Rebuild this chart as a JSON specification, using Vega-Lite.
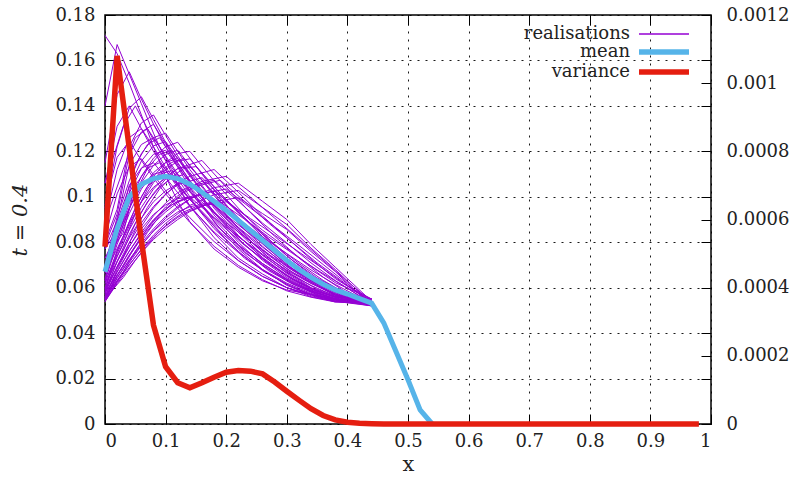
{
  "$schema": "https://vega.github.io/schema/vega-lite/v6.json",
  "width": 606,
  "height": 409,
  "autosize": {"type": "none"},
  "padding": {"left": 105, "top": 15, "right": 82, "bottom": 53},
  "background": "white",
  "config": {
    "view": {"stroke": "black", "strokeWidth": 1.5},
    "font": "DejaVu Serif",
    "axis": {
      "labelFont": "DejaVu Serif",
      "labelFontSize": 18,
      "labelColor": "#222222",
      "titleFont": "DejaVu Serif",
      "titleFontSize": 21,
      "titleFontWeight": "normal",
      "titleColor": "#222222",
      "domain": false,
      "tickColor": "black",
      "tickWidth": 1,
      "gridColor": "black",
      "gridDash": [2, 6],
      "gridOpacity": 0.9,
      "gridWidth": 1
    },
    "legend": {
      "labelFont": "DejaVu Serif",
      "labelFontSize": 18,
      "labelColor": "#222222"
    }
  },
  "datasets": {
    "real": [
      {"r":1,"x":0,"y":0.171},{"r":1,"x":0.02,"y":0.163},{"r":1,"x":0.04,"y":0.150},{"r":1,"x":0.06,"y":0.136},{"r":1,"x":0.08,"y":0.122},{"r":1,"x":0.1,"y":0.109},{"r":1,"x":0.12,"y":0.098},{"r":1,"x":0.14,"y":0.089},{"r":1,"x":0.18,"y":0.077},{"r":1,"x":0.22,"y":0.069},{"r":1,"x":0.26,"y":0.063},{"r":1,"x":0.3,"y":0.059},{"r":1,"x":0.34,"y":0.057},{"r":1,"x":0.38,"y":0.055},{"r":1,"x":0.44,"y":0.053},
      {"r":2,"x":0,"y":0.140},{"r":2,"x":0.02,"y":0.167},{"r":2,"x":0.04,"y":0.154},{"r":2,"x":0.06,"y":0.141},{"r":2,"x":0.08,"y":0.128},{"r":2,"x":0.1,"y":0.116},{"r":2,"x":0.12,"y":0.105},{"r":2,"x":0.14,"y":0.096},{"r":2,"x":0.18,"y":0.082},{"r":2,"x":0.22,"y":0.072},{"r":2,"x":0.26,"y":0.065},{"r":2,"x":0.3,"y":0.060},{"r":2,"x":0.34,"y":0.057},{"r":2,"x":0.38,"y":0.055},{"r":2,"x":0.44,"y":0.054},
      {"r":3,"x":0,"y":0.115},{"r":3,"x":0.02,"y":0.145},{"r":3,"x":0.04,"y":0.155},{"r":3,"x":0.06,"y":0.143},{"r":3,"x":0.08,"y":0.132},{"r":3,"x":0.1,"y":0.122},{"r":3,"x":0.12,"y":0.113},{"r":3,"x":0.14,"y":0.104},{"r":3,"x":0.18,"y":0.089},{"r":3,"x":0.22,"y":0.077},{"r":3,"x":0.26,"y":0.068},{"r":3,"x":0.3,"y":0.061},{"r":3,"x":0.34,"y":0.057},{"r":3,"x":0.38,"y":0.054},{"r":3,"x":0.44,"y":0.053},
      {"r":4,"x":0,"y":0.106},{"r":4,"x":0.02,"y":0.131},{"r":4,"x":0.04,"y":0.140},{"r":4,"x":0.06,"y":0.130},{"r":4,"x":0.08,"y":0.120},{"r":4,"x":0.1,"y":0.112},{"r":4,"x":0.12,"y":0.104},{"r":4,"x":0.14,"y":0.096},{"r":4,"x":0.18,"y":0.084},{"r":4,"x":0.22,"y":0.073},{"r":4,"x":0.26,"y":0.066},{"r":4,"x":0.3,"y":0.060},{"r":4,"x":0.34,"y":0.056},{"r":4,"x":0.38,"y":0.054},{"r":4,"x":0.44,"y":0.052},
      {"r":5,"x":0,"y":0.095},{"r":5,"x":0.02,"y":0.122},{"r":5,"x":0.04,"y":0.139},{"r":5,"x":0.06,"y":0.144},{"r":5,"x":0.08,"y":0.134},{"r":5,"x":0.1,"y":0.124},{"r":5,"x":0.12,"y":0.115},{"r":5,"x":0.14,"y":0.107},{"r":5,"x":0.18,"y":0.092},{"r":5,"x":0.22,"y":0.080},{"r":5,"x":0.26,"y":0.070},{"r":5,"x":0.3,"y":0.063},{"r":5,"x":0.34,"y":0.058},{"r":5,"x":0.38,"y":0.054},{"r":5,"x":0.44,"y":0.054},
      {"r":6,"x":0,"y":0.089},{"r":6,"x":0.02,"y":0.112},{"r":6,"x":0.04,"y":0.126},{"r":6,"x":0.06,"y":0.130},{"r":6,"x":0.08,"y":0.122},{"r":6,"x":0.1,"y":0.113},{"r":6,"x":0.12,"y":0.106},{"r":6,"x":0.14,"y":0.099},{"r":6,"x":0.18,"y":0.086},{"r":6,"x":0.22,"y":0.076},{"r":6,"x":0.26,"y":0.0675},{"r":6,"x":0.3,"y":0.0615},{"r":6,"x":0.34,"y":0.057},{"r":6,"x":0.38,"y":0.054},{"r":6,"x":0.44,"y":0.053},
      {"r":7,"x":0,"y":0.080},{"r":7,"x":0.02,"y":0.0945},{"r":7,"x":0.04,"y":0.122},{"r":7,"x":0.06,"y":0.1325},{"r":7,"x":0.08,"y":0.136},{"r":7,"x":0.1,"y":0.127},{"r":7,"x":0.12,"y":0.118},{"r":7,"x":0.14,"y":0.110},{"r":7,"x":0.18,"y":0.095},{"r":7,"x":0.22,"y":0.083},{"r":7,"x":0.26,"y":0.073},{"r":7,"x":0.3,"y":0.065},{"r":7,"x":0.34,"y":0.059},{"r":7,"x":0.38,"y":0.055},{"r":7,"x":0.44,"y":0.053},
      {"r":8,"x":0,"y":0.077},{"r":8,"x":0.02,"y":0.0895},{"r":8,"x":0.04,"y":0.114},{"r":8,"x":0.06,"y":0.123},{"r":8,"x":0.08,"y":0.126},{"r":8,"x":0.1,"y":0.118},{"r":8,"x":0.12,"y":0.110},{"r":8,"x":0.14,"y":0.103},{"r":8,"x":0.18,"y":0.090},{"r":8,"x":0.22,"y":0.079},{"r":8,"x":0.26,"y":0.0706},{"r":8,"x":0.3,"y":0.0636},{"r":8,"x":0.34,"y":0.0583},{"r":8,"x":0.38,"y":0.0548},{"r":8,"x":0.44,"y":0.055},
      {"r":9,"x":0,"y":0.073},{"r":9,"x":0.02,"y":0.084},{"r":9,"x":0.04,"y":0.105},{"r":9,"x":0.06,"y":0.1126},{"r":9,"x":0.08,"y":0.115},{"r":9,"x":0.1,"y":0.1085},{"r":9,"x":0.12,"y":0.1018},{"r":9,"x":0.14,"y":0.0958},{"r":9,"x":0.18,"y":0.0845},{"r":9,"x":0.22,"y":0.0755},{"r":9,"x":0.26,"y":0.068},{"r":9,"x":0.3,"y":0.062},{"r":9,"x":0.34,"y":0.0575},{"r":9,"x":0.38,"y":0.0545},{"r":9,"x":0.44,"y":0.053},
      {"r":10,"x":0,"y":0.070},{"r":10,"x":0.02,"y":0.091},{"r":10,"x":0.04,"y":0.107},{"r":10,"x":0.06,"y":0.119},{"r":10,"x":0.08,"y":0.126},{"r":10,"x":0.1,"y":0.128},{"r":10,"x":0.12,"y":0.120},{"r":10,"x":0.14,"y":0.112},{"r":10,"x":0.18,"y":0.098},{"r":10,"x":0.22,"y":0.086},{"r":10,"x":0.26,"y":0.0755},{"r":10,"x":0.3,"y":0.067},{"r":10,"x":0.34,"y":0.060},{"r":10,"x":0.38,"y":0.056},{"r":10,"x":0.44,"y":0.054},
      {"r":11,"x":0,"y":0.0683},{"r":11,"x":0.02,"y":0.0872},{"r":11,"x":0.04,"y":0.1016},{"r":11,"x":0.06,"y":0.1124},{"r":11,"x":0.08,"y":0.1187},{"r":11,"x":0.1,"y":0.1205},{"r":11,"x":0.12,"y":0.1133},{"r":11,"x":0.14,"y":0.1061},{"r":11,"x":0.18,"y":0.0935},{"r":11,"x":0.22,"y":0.0827},{"r":11,"x":0.26,"y":0.0733},{"r":11,"x":0.3,"y":0.0656},{"r":11,"x":0.34,"y":0.0593},{"r":11,"x":0.38,"y":0.0557},{"r":11,"x":0.44,"y":0.053},
      {"r":12,"x":0,"y":0.0663},{"r":12,"x":0.02,"y":0.0826},{"r":12,"x":0.04,"y":0.0951},{"r":12,"x":0.06,"y":0.1045},{"r":12,"x":0.08,"y":0.1099},{"r":12,"x":0.1,"y":0.1115},{"r":12,"x":0.12,"y":0.1053},{"r":12,"x":0.14,"y":0.099},{"r":12,"x":0.18,"y":0.0881},{"r":12,"x":0.22,"y":0.0787},{"r":12,"x":0.26,"y":0.0706},{"r":12,"x":0.3,"y":0.0639},{"r":12,"x":0.34,"y":0.0585},{"r":12,"x":0.38,"y":0.0553},{"r":12,"x":0.44,"y":0.052},
      {"r":13,"x":0,"y":0.064},{"r":13,"x":0.02,"y":0.082},{"r":13,"x":0.04,"y":0.097},{"r":13,"x":0.06,"y":0.109},{"r":13,"x":0.08,"y":0.117},{"r":13,"x":0.1,"y":0.122},{"r":13,"x":0.12,"y":0.124},{"r":13,"x":0.14,"y":0.117},{"r":13,"x":0.18,"y":0.103},{"r":13,"x":0.22,"y":0.090},{"r":13,"x":0.26,"y":0.0795},{"r":13,"x":0.3,"y":0.070},{"r":13,"x":0.34,"y":0.063},{"r":13,"x":0.38,"y":0.057},{"r":13,"x":0.44,"y":0.054},
      {"r":14,"x":0,"y":0.0629},{"r":14,"x":0.02,"y":0.0791},{"r":14,"x":0.04,"y":0.0926},{"r":14,"x":0.06,"y":0.1034},{"r":14,"x":0.08,"y":0.1106},{"r":14,"x":0.1,"y":0.1151},{"r":14,"x":0.12,"y":0.1169},{"r":14,"x":0.14,"y":0.1106},{"r":14,"x":0.18,"y":0.098},{"r":14,"x":0.22,"y":0.0863},{"r":14,"x":0.26,"y":0.0769},{"r":14,"x":0.3,"y":0.0683},{"r":14,"x":0.34,"y":0.062},{"r":14,"x":0.38,"y":0.0566},{"r":14,"x":0.44,"y":0.053},
      {"r":15,"x":0,"y":0.0618},{"r":15,"x":0.02,"y":0.0762},{"r":15,"x":0.04,"y":0.0882},{"r":15,"x":0.06,"y":0.0978},{"r":15,"x":0.08,"y":0.1042},{"r":15,"x":0.1,"y":0.1082},{"r":15,"x":0.12,"y":0.1098},{"r":15,"x":0.14,"y":0.1042},{"r":15,"x":0.18,"y":0.093},{"r":15,"x":0.22,"y":0.0826},{"r":15,"x":0.26,"y":0.0742},{"r":15,"x":0.3,"y":0.0666},{"r":15,"x":0.34,"y":0.061},{"r":15,"x":0.38,"y":0.0562},{"r":15,"x":0.44,"y":0.055},
      {"r":16,"x":0,"y":0.060},{"r":16,"x":0.02,"y":0.076},{"r":16,"x":0.04,"y":0.089},{"r":16,"x":0.06,"y":0.100},{"r":16,"x":0.08,"y":0.109},{"r":16,"x":0.1,"y":0.115},{"r":16,"x":0.12,"y":0.119},{"r":16,"x":0.14,"y":0.120},{"r":16,"x":0.18,"y":0.107},{"r":16,"x":0.22,"y":0.095},{"r":16,"x":0.26,"y":0.084},{"r":16,"x":0.3,"y":0.074},{"r":16,"x":0.34,"y":0.0655},{"r":16,"x":0.38,"y":0.059},{"r":16,"x":0.44,"y":0.053},
      {"r":17,"x":0,"y":0.0593},{"r":17,"x":0.02,"y":0.0737},{"r":17,"x":0.04,"y":0.0854},{"r":17,"x":0.06,"y":0.0953},{"r":17,"x":0.08,"y":0.1034},{"r":17,"x":0.1,"y":0.1088},{"r":17,"x":0.12,"y":0.1124},{"r":17,"x":0.14,"y":0.1133},{"r":17,"x":0.18,"y":0.1016},{"r":17,"x":0.22,"y":0.0908},{"r":17,"x":0.26,"y":0.0809},{"r":17,"x":0.3,"y":0.0719},{"r":17,"x":0.34,"y":0.0643},{"r":17,"x":0.38,"y":0.0584},{"r":17,"x":0.44,"y":0.054},
      {"r":18,"x":0,"y":0.0586},{"r":18,"x":0.02,"y":0.0714},{"r":18,"x":0.04,"y":0.0818},{"r":18,"x":0.06,"y":0.0906},{"r":18,"x":0.08,"y":0.0978},{"r":18,"x":0.1,"y":0.1026},{"r":18,"x":0.12,"y":0.1058},{"r":18,"x":0.14,"y":0.1066},{"r":18,"x":0.18,"y":0.0962},{"r":18,"x":0.22,"y":0.0866},{"r":18,"x":0.26,"y":0.0778},{"r":18,"x":0.3,"y":0.0698},{"r":18,"x":0.34,"y":0.063},{"r":18,"x":0.38,"y":0.0578},{"r":18,"x":0.44,"y":0.053},
      {"r":19,"x":0,"y":0.0579},{"r":19,"x":0.02,"y":0.0691},{"r":19,"x":0.04,"y":0.0782},{"r":19,"x":0.06,"y":0.0859},{"r":19,"x":0.08,"y":0.0922},{"r":19,"x":0.1,"y":0.0964},{"r":19,"x":0.12,"y":0.0992},{"r":19,"x":0.14,"y":0.0999},{"r":19,"x":0.18,"y":0.0908},{"r":19,"x":0.22,"y":0.0824},{"r":19,"x":0.26,"y":0.0747},{"r":19,"x":0.3,"y":0.0677},{"r":19,"x":0.34,"y":0.0618},{"r":19,"x":0.38,"y":0.0572},{"r":19,"x":0.44,"y":0.052},
      {"r":20,"x":0,"y":0.056},{"r":20,"x":0.02,"y":0.068},{"r":20,"x":0.04,"y":0.078},{"r":20,"x":0.06,"y":0.087},{"r":20,"x":0.08,"y":0.095},{"r":20,"x":0.1,"y":0.101},{"r":20,"x":0.12,"y":0.106},{"r":20,"x":0.14,"y":0.109},{"r":20,"x":0.18,"y":0.112},{"r":20,"x":0.22,"y":0.102},{"r":20,"x":0.26,"y":0.0915},{"r":20,"x":0.3,"y":0.082},{"r":20,"x":0.34,"y":0.0725},{"r":20,"x":0.38,"y":0.064},{"r":20,"x":0.44,"y":0.054},
      {"r":21,"x":0,"y":0.0558},{"r":21,"x":0.02,"y":0.0668},{"r":21,"x":0.04,"y":0.076},{"r":21,"x":0.06,"y":0.0843},{"r":21,"x":0.08,"y":0.0916},{"r":21,"x":0.1,"y":0.0972},{"r":21,"x":0.12,"y":0.1018},{"r":21,"x":0.14,"y":0.1045},{"r":21,"x":0.18,"y":0.1073},{"r":21,"x":0.22,"y":0.0981},{"r":21,"x":0.26,"y":0.0884},{"r":21,"x":0.3,"y":0.0797},{"r":21,"x":0.34,"y":0.0709},{"r":21,"x":0.38,"y":0.0631},{"r":21,"x":0.44,"y":0.053},
      {"r":22,"x":0,"y":0.0555},{"r":22,"x":0.02,"y":0.0656},{"r":22,"x":0.04,"y":0.074},{"r":22,"x":0.06,"y":0.0816},{"r":22,"x":0.08,"y":0.0883},{"r":22,"x":0.1,"y":0.0933},{"r":22,"x":0.12,"y":0.0975},{"r":22,"x":0.14,"y":0.1},{"r":22,"x":0.18,"y":0.1026},{"r":22,"x":0.22,"y":0.0942},{"r":22,"x":0.26,"y":0.0853},{"r":22,"x":0.3,"y":0.0774},{"r":22,"x":0.34,"y":0.0694},{"r":22,"x":0.38,"y":0.0622},{"r":22,"x":0.44,"y":0.055},
      {"r":23,"x":0,"y":0.0553},{"r":23,"x":0.02,"y":0.0644},{"r":23,"x":0.04,"y":0.072},{"r":23,"x":0.06,"y":0.0788},{"r":23,"x":0.08,"y":0.0849},{"r":23,"x":0.1,"y":0.0895},{"r":23,"x":0.12,"y":0.0933},{"r":23,"x":0.14,"y":0.0956},{"r":23,"x":0.18,"y":0.0978},{"r":23,"x":0.22,"y":0.0902},{"r":23,"x":0.26,"y":0.0823},{"r":23,"x":0.3,"y":0.075},{"r":23,"x":0.34,"y":0.0678},{"r":23,"x":0.38,"y":0.0614},{"r":23,"x":0.44,"y":0.053},
      {"r":24,"x":0,"y":0.054},{"r":24,"x":0.02,"y":0.063},{"r":24,"x":0.04,"y":0.071},{"r":24,"x":0.06,"y":0.0785},{"r":24,"x":0.08,"y":0.085},{"r":24,"x":0.1,"y":0.0905},{"r":24,"x":0.12,"y":0.095},{"r":24,"x":0.14,"y":0.099},{"r":24,"x":0.18,"y":0.104},{"r":24,"x":0.22,"y":0.106},{"r":24,"x":0.26,"y":0.098},{"r":24,"x":0.3,"y":0.090},{"r":24,"x":0.34,"y":0.079},{"r":24,"x":0.38,"y":0.069},{"r":24,"x":0.44,"y":0.054},
      {"r":25,"x":0,"y":0.0539},{"r":25,"x":0.02,"y":0.0624},{"r":25,"x":0.04,"y":0.0699},{"r":25,"x":0.06,"y":0.077},{"r":25,"x":0.08,"y":0.0831},{"r":25,"x":0.1,"y":0.0883},{"r":25,"x":0.12,"y":0.0925},{"r":25,"x":0.14,"y":0.0962},{"r":25,"x":0.18,"y":0.1009},{"r":25,"x":0.22,"y":0.1028},{"r":25,"x":0.26,"y":0.0953},{"r":25,"x":0.3,"y":0.0878},{"r":25,"x":0.34,"y":0.0774},{"r":25,"x":0.38,"y":0.068},{"r":25,"x":0.44,"y":0.053},
      {"r":26,"x":0,"y":0.0539},{"r":26,"x":0.02,"y":0.0618},{"r":26,"x":0.04,"y":0.0688},{"r":26,"x":0.06,"y":0.0754},{"r":26,"x":0.08,"y":0.0812},{"r":26,"x":0.1,"y":0.086},{"r":26,"x":0.12,"y":0.09},{"r":26,"x":0.14,"y":0.0935},{"r":26,"x":0.18,"y":0.0979},{"r":26,"x":0.22,"y":0.0996},{"r":26,"x":0.26,"y":0.0926},{"r":26,"x":0.3,"y":0.0856},{"r":26,"x":0.34,"y":0.0759},{"r":26,"x":0.38,"y":0.0671},{"r":26,"x":0.44,"y":0.052},
      {"r":27,"x":0,"y":0.058},{"r":27,"x":0.02,"y":0.0716},{"r":27,"x":0.04,"y":0.0834},{"r":27,"x":0.06,"y":0.0933},{"r":27,"x":0.08,"y":0.1015},{"r":27,"x":0.1,"y":0.1078},{"r":27,"x":0.12,"y":0.1124},{"r":27,"x":0.16,"y":0.116},{"r":27,"x":0.2,"y":0.1042},{"r":27,"x":0.24,"y":0.093},{"r":27,"x":0.28,"y":0.0826},{"r":27,"x":0.32,"y":0.0731},{"r":27,"x":0.36,"y":0.0646},{"r":27,"x":0.4,"y":0.0576},{"r":27,"x":0.44,"y":0.053},
      {"r":28,"x":0,"y":0.0574},{"r":28,"x":0.02,"y":0.0694},{"r":28,"x":0.04,"y":0.0798},{"r":28,"x":0.06,"y":0.0885},{"r":28,"x":0.08,"y":0.0957},{"r":28,"x":0.1,"y":0.1012},{"r":28,"x":0.12,"y":0.1053},{"r":28,"x":0.16,"y":0.1084},{"r":28,"x":0.2,"y":0.0981},{"r":28,"x":0.24,"y":0.0882},{"r":28,"x":0.28,"y":0.079},{"r":28,"x":0.32,"y":0.0707},{"r":28,"x":0.36,"y":0.0632},{"r":28,"x":0.4,"y":0.057},{"r":28,"x":0.44,"y":0.054},
      {"r":29,"x":0,"y":0.0568},{"r":29,"x":0.02,"y":0.0671},{"r":29,"x":0.04,"y":0.0761},{"r":29,"x":0.06,"y":0.0836},{"r":29,"x":0.08,"y":0.0899},{"r":29,"x":0.1,"y":0.0946},{"r":29,"x":0.12,"y":0.0981},{"r":29,"x":0.16,"y":0.1009},{"r":29,"x":0.2,"y":0.0919},{"r":29,"x":0.24,"y":0.0834},{"r":29,"x":0.28,"y":0.0755},{"r":29,"x":0.32,"y":0.0683},{"r":29,"x":0.36,"y":0.0618},{"r":29,"x":0.4,"y":0.0565},{"r":29,"x":0.44,"y":0.052},
      {"r":30,"x":0,"y":0.055},{"r":30,"x":0.02,"y":0.0653},{"r":30,"x":0.04,"y":0.0744},{"r":30,"x":0.06,"y":0.0825},{"r":30,"x":0.08,"y":0.0896},{"r":30,"x":0.1,"y":0.0955},{"r":30,"x":0.12,"y":0.1004},{"r":30,"x":0.14,"y":0.1041},{"r":30,"x":0.16,"y":0.1068},{"r":30,"x":0.2,"y":0.109},{"r":30,"x":0.24,"y":0.0998},{"r":30,"x":0.28,"y":0.0906},{"r":30,"x":0.32,"y":0.0814},{"r":30,"x":0.36,"y":0.0721},{"r":30,"x":0.4,"y":0.0627},{"r":30,"x":0.44,"y":0.054},
      {"r":31,"x":0,"y":0.0548},{"r":31,"x":0.02,"y":0.0641},{"r":31,"x":0.04,"y":0.0723},{"r":31,"x":0.06,"y":0.0796},{"r":31,"x":0.08,"y":0.0859},{"r":31,"x":0.1,"y":0.0913},{"r":31,"x":0.12,"y":0.0957},{"r":31,"x":0.14,"y":0.099},{"r":31,"x":0.16,"y":0.1014},{"r":31,"x":0.2,"y":0.1034},{"r":31,"x":0.24,"y":0.0951},{"r":31,"x":0.28,"y":0.0868},{"r":31,"x":0.32,"y":0.0786},{"r":31,"x":0.36,"y":0.0702},{"r":31,"x":0.4,"y":0.0617},{"r":31,"x":0.44,"y":0.053},
      {"r":32,"x":0,"y":0.0546},{"r":32,"x":0.02,"y":0.0628},{"r":32,"x":0.04,"y":0.0701},{"r":32,"x":0.06,"y":0.0766},{"r":32,"x":0.08,"y":0.0823},{"r":32,"x":0.1,"y":0.087},{"r":32,"x":0.12,"y":0.0909},{"r":32,"x":0.14,"y":0.0939},{"r":32,"x":0.16,"y":0.096},{"r":32,"x":0.2,"y":0.0978},{"r":32,"x":0.24,"y":0.0904},{"r":32,"x":0.28,"y":0.0831},{"r":32,"x":0.32,"y":0.0757},{"r":32,"x":0.36,"y":0.0683},{"r":32,"x":0.4,"y":0.0608},{"r":32,"x":0.44,"y":0.055},
      {"r":33,"x":0,"y":0.0824},{"r":33,"x":0.02,"y":0.1013},{"r":33,"x":0.04,"y":0.1132},{"r":33,"x":0.06,"y":0.1167},{"r":33,"x":0.08,"y":0.1097},{"r":33,"x":0.1,"y":0.1027},{"r":33,"x":0.12,"y":0.0964},{"r":33,"x":0.14,"y":0.0908},{"r":33,"x":0.18,"y":0.0803},{"r":33,"x":0.22,"y":0.0719},{"r":33,"x":0.26,"y":0.0649},{"r":33,"x":0.3,"y":0.06},{"r":33,"x":0.34,"y":0.0565},{"r":33,"x":0.38,"y":0.0537},{"r":33,"x":0.44,"y":0.053},
      {"r":34,"x":0,"y":0.0964},{"r":34,"x":0.02,"y":0.1174},{"r":34,"x":0.04,"y":0.1244},{"r":34,"x":0.06,"y":0.116},{"r":34,"x":0.08,"y":0.1083},{"r":34,"x":0.1,"y":0.1013},{"r":34,"x":0.12,"y":0.095},{"r":34,"x":0.14,"y":0.0887},{"r":34,"x":0.18,"y":0.0782},{"r":34,"x":0.22,"y":0.0698},{"r":34,"x":0.26,"y":0.0635},{"r":34,"x":0.3,"y":0.0586},{"r":34,"x":0.34,"y":0.0558},{"r":34,"x":0.38,"y":0.0537},{"r":34,"x":0.44,"y":0.054},
      {"r":35,"x":0,"y":0.0787},{"r":35,"x":0.02,"y":0.0924},{"r":35,"x":0.04,"y":0.1186},{"r":35,"x":0.06,"y":0.1285},{"r":35,"x":0.08,"y":0.1319},{"r":35,"x":0.1,"y":0.1233},{"r":35,"x":0.12,"y":0.1148},{"r":35,"x":0.14,"y":0.1072},{"r":35,"x":0.18,"y":0.0929},{"r":35,"x":0.22,"y":0.0815},{"r":35,"x":0.26,"y":0.072},{"r":35,"x":0.3,"y":0.0644},{"r":35,"x":0.34,"y":0.0587},{"r":35,"x":0.38,"y":0.0549},{"r":35,"x":0.44,"y":0.053},
      {"r":36,"x":0,"y":0.0692},{"r":36,"x":0.02,"y":0.0891},{"r":36,"x":0.04,"y":0.1043},{"r":36,"x":0.06,"y":0.1157},{"r":36,"x":0.08,"y":0.1224},{"r":36,"x":0.1,"y":0.1243},{"r":36,"x":0.12,"y":0.1167},{"r":36,"x":0.14,"y":0.1091},{"r":36,"x":0.18,"y":0.0958},{"r":36,"x":0.22,"y":0.0844},{"r":36,"x":0.26,"y":0.0744},{"r":36,"x":0.3,"y":0.0663},{"r":36,"x":0.34,"y":0.0597},{"r":36,"x":0.38,"y":0.0559},{"r":36,"x":0.44,"y":0.054},
      {"r":37,"x":0,"y":0.0635},{"r":37,"x":0.02,"y":0.0806},{"r":37,"x":0.04,"y":0.0948},{"r":37,"x":0.06,"y":0.1062},{"r":37,"x":0.08,"y":0.1138},{"r":37,"x":0.1,"y":0.1186},{"r":37,"x":0.12,"y":0.1205},{"r":37,"x":0.14,"y":0.1138},{"r":37,"x":0.18,"y":0.1005},{"r":37,"x":0.22,"y":0.0882},{"r":37,"x":0.26,"y":0.0782},{"r":37,"x":0.3,"y":0.0692},{"r":37,"x":0.34,"y":0.0625},{"r":37,"x":0.38,"y":0.0568},{"r":37,"x":0.44,"y":0.053},
      {"r":38,"x":0,"y":0.0597},{"r":38,"x":0.02,"y":0.0749},{"r":38,"x":0.04,"y":0.0872},{"r":38,"x":0.06,"y":0.0977},{"r":38,"x":0.08,"y":0.1062},{"r":38,"x":0.1,"y":0.1119},{"r":38,"x":0.12,"y":0.1157},{"r":38,"x":0.14,"y":0.1167},{"r":38,"x":0.18,"y":0.1043},{"r":38,"x":0.22,"y":0.0929},{"r":38,"x":0.26,"y":0.0825},{"r":38,"x":0.3,"y":0.073},{"r":38,"x":0.34,"y":0.0649},{"r":38,"x":0.38,"y":0.0587},{"r":38,"x":0.44,"y":0.055},
      {"r":39,"x":0,"y":0.106},{"r":39,"x":0.03,"y":0.131},{"r":39,"x":0.05,"y":0.140},{"r":39,"x":0.07,"y":0.130},{"r":39,"x":0.09,"y":0.120},{"r":39,"x":0.11,"y":0.112},{"r":39,"x":0.13,"y":0.104},{"r":39,"x":0.15,"y":0.096},{"r":39,"x":0.19,"y":0.084},{"r":39,"x":0.23,"y":0.073},{"r":39,"x":0.27,"y":0.066},{"r":39,"x":0.31,"y":0.060},{"r":39,"x":0.35,"y":0.056},{"r":39,"x":0.39,"y":0.054},{"r":39,"x":0.44,"y":0.052},
      {"r":40,"x":0,"y":0.089},{"r":40,"x":0.03,"y":0.112},{"r":40,"x":0.05,"y":0.126},{"r":40,"x":0.07,"y":0.130},{"r":40,"x":0.09,"y":0.122},{"r":40,"x":0.11,"y":0.113},{"r":40,"x":0.13,"y":0.106},{"r":40,"x":0.15,"y":0.099},{"r":40,"x":0.19,"y":0.086},{"r":40,"x":0.23,"y":0.076},{"r":40,"x":0.27,"y":0.0675},{"r":40,"x":0.31,"y":0.0615},{"r":40,"x":0.35,"y":0.057},{"r":40,"x":0.39,"y":0.054},{"r":40,"x":0.44,"y":0.053},
      {"r":41,"x":0,"y":0.077},{"r":41,"x":0.03,"y":0.0895},{"r":41,"x":0.05,"y":0.114},{"r":41,"x":0.07,"y":0.123},{"r":41,"x":0.09,"y":0.126},{"r":41,"x":0.11,"y":0.118},{"r":41,"x":0.13,"y":0.110},{"r":41,"x":0.15,"y":0.103},{"r":41,"x":0.19,"y":0.090},{"r":41,"x":0.23,"y":0.079},{"r":41,"x":0.27,"y":0.0706},{"r":41,"x":0.31,"y":0.0636},{"r":41,"x":0.35,"y":0.0583},{"r":41,"x":0.39,"y":0.0548},{"r":41,"x":0.44,"y":0.055},
      {"r":42,"x":0,"y":0.073},{"r":42,"x":0.03,"y":0.084},{"r":42,"x":0.05,"y":0.105},{"r":42,"x":0.07,"y":0.1126},{"r":42,"x":0.09,"y":0.115},{"r":42,"x":0.11,"y":0.1085},{"r":42,"x":0.13,"y":0.1018},{"r":42,"x":0.15,"y":0.0958},{"r":42,"x":0.19,"y":0.0845},{"r":42,"x":0.23,"y":0.0755},{"r":42,"x":0.27,"y":0.068},{"r":42,"x":0.31,"y":0.062},{"r":42,"x":0.35,"y":0.0575},{"r":42,"x":0.39,"y":0.0545},{"r":42,"x":0.44,"y":0.053},
      {"r":43,"x":0,"y":0.0683},{"r":43,"x":0.03,"y":0.0872},{"r":43,"x":0.05,"y":0.1016},{"r":43,"x":0.07,"y":0.1124},{"r":43,"x":0.09,"y":0.1187},{"r":43,"x":0.11,"y":0.1205},{"r":43,"x":0.13,"y":0.1133},{"r":43,"x":0.15,"y":0.1061},{"r":43,"x":0.19,"y":0.0935},{"r":43,"x":0.23,"y":0.0827},{"r":43,"x":0.27,"y":0.0733},{"r":43,"x":0.31,"y":0.0656},{"r":43,"x":0.35,"y":0.0593},{"r":43,"x":0.39,"y":0.0557},{"r":43,"x":0.44,"y":0.053},
      {"r":44,"x":0,"y":0.0663},{"r":44,"x":0.03,"y":0.0826},{"r":44,"x":0.05,"y":0.0951},{"r":44,"x":0.07,"y":0.1045},{"r":44,"x":0.09,"y":0.1099},{"r":44,"x":0.11,"y":0.1115},{"r":44,"x":0.13,"y":0.1053},{"r":44,"x":0.15,"y":0.099},{"r":44,"x":0.19,"y":0.0881},{"r":44,"x":0.23,"y":0.0787},{"r":44,"x":0.27,"y":0.0706},{"r":44,"x":0.31,"y":0.0639},{"r":44,"x":0.35,"y":0.0585},{"r":44,"x":0.39,"y":0.0553},{"r":44,"x":0.44,"y":0.052},
      {"r":45,"x":0,"y":0.0629},{"r":45,"x":0.03,"y":0.0791},{"r":45,"x":0.05,"y":0.0926},{"r":45,"x":0.07,"y":0.1034},{"r":45,"x":0.09,"y":0.1106},{"r":45,"x":0.11,"y":0.1151},{"r":45,"x":0.13,"y":0.1169},{"r":45,"x":0.15,"y":0.1106},{"r":45,"x":0.19,"y":0.098},{"r":45,"x":0.23,"y":0.0863},{"r":45,"x":0.27,"y":0.0769},{"r":45,"x":0.31,"y":0.0683},{"r":45,"x":0.35,"y":0.062},{"r":45,"x":0.39,"y":0.0566},{"r":45,"x":0.44,"y":0.053},
      {"r":46,"x":0,"y":0.0618},{"r":46,"x":0.03,"y":0.0762},{"r":46,"x":0.05,"y":0.0882},{"r":46,"x":0.07,"y":0.0978},{"r":46,"x":0.09,"y":0.1042},{"r":46,"x":0.11,"y":0.1082},{"r":46,"x":0.13,"y":0.1098},{"r":46,"x":0.15,"y":0.1042},{"r":46,"x":0.19,"y":0.093},{"r":46,"x":0.23,"y":0.0826},{"r":46,"x":0.27,"y":0.0742},{"r":46,"x":0.31,"y":0.0666},{"r":46,"x":0.35,"y":0.061},{"r":46,"x":0.39,"y":0.0562},{"r":46,"x":0.44,"y":0.055},
      {"r":47,"x":0,"y":0.0593},{"r":47,"x":0.03,"y":0.0737},{"r":47,"x":0.05,"y":0.0854},{"r":47,"x":0.07,"y":0.0953},{"r":47,"x":0.09,"y":0.1034},{"r":47,"x":0.11,"y":0.1088},{"r":47,"x":0.13,"y":0.1124},{"r":47,"x":0.15,"y":0.1133},{"r":47,"x":0.19,"y":0.1016},{"r":47,"x":0.23,"y":0.0908},{"r":47,"x":0.27,"y":0.0809},{"r":47,"x":0.31,"y":0.0719},{"r":47,"x":0.35,"y":0.0643},{"r":47,"x":0.39,"y":0.0584},{"r":47,"x":0.44,"y":0.054},
      {"r":48,"x":0,"y":0.0579},{"r":48,"x":0.03,"y":0.0691},{"r":48,"x":0.05,"y":0.0782},{"r":48,"x":0.07,"y":0.0859},{"r":48,"x":0.09,"y":0.0922},{"r":48,"x":0.11,"y":0.0964},{"r":48,"x":0.13,"y":0.0992},{"r":48,"x":0.15,"y":0.0999},{"r":48,"x":0.19,"y":0.0908},{"r":48,"x":0.23,"y":0.0824},{"r":48,"x":0.27,"y":0.0747},{"r":48,"x":0.31,"y":0.0677},{"r":48,"x":0.35,"y":0.0618},{"r":48,"x":0.39,"y":0.0572},{"r":48,"x":0.44,"y":0.052},
      {"r":49,"x":0,"y":0.0558},{"r":49,"x":0.03,"y":0.0668},{"r":49,"x":0.05,"y":0.076},{"r":49,"x":0.07,"y":0.0843},{"r":49,"x":0.09,"y":0.0916},{"r":49,"x":0.11,"y":0.0972},{"r":49,"x":0.13,"y":0.1018},{"r":49,"x":0.15,"y":0.1045},{"r":49,"x":0.19,"y":0.1073},{"r":49,"x":0.23,"y":0.0981},{"r":49,"x":0.27,"y":0.0884},{"r":49,"x":0.31,"y":0.0797},{"r":49,"x":0.35,"y":0.0709},{"r":49,"x":0.39,"y":0.0631},{"r":49,"x":0.44,"y":0.053},
      {"r":50,"x":0,"y":0.0553},{"r":50,"x":0.03,"y":0.0644},{"r":50,"x":0.05,"y":0.072},{"r":50,"x":0.07,"y":0.0788},{"r":50,"x":0.09,"y":0.0849},{"r":50,"x":0.11,"y":0.0895},{"r":50,"x":0.13,"y":0.0933},{"r":50,"x":0.15,"y":0.0956},{"r":50,"x":0.19,"y":0.0978},{"r":50,"x":0.23,"y":0.0902},{"r":50,"x":0.27,"y":0.0823},{"r":50,"x":0.31,"y":0.075},{"r":50,"x":0.35,"y":0.0678},{"r":50,"x":0.39,"y":0.0614},{"r":50,"x":0.44,"y":0.053}
    ],
    "mean": [
      {"x":0,"y":0.067},{"x":0.02,"y":0.086},{"x":0.04,"y":0.100},{"x":0.06,"y":0.1055},{"x":0.08,"y":0.108},{"x":0.1,"y":0.109},{"x":0.12,"y":0.108},{"x":0.14,"y":0.1055},{"x":0.16,"y":0.102},{"x":0.18,"y":0.098},{"x":0.2,"y":0.094},{"x":0.22,"y":0.0896},{"x":0.24,"y":0.0852},{"x":0.26,"y":0.0808},{"x":0.28,"y":0.0764},{"x":0.3,"y":0.072},{"x":0.32,"y":0.068},{"x":0.34,"y":0.0645},{"x":0.36,"y":0.0615},{"x":0.38,"y":0.059},{"x":0.4,"y":0.0572},{"x":0.42,"y":0.0552},{"x":0.44,"y":0.0532},{"x":0.46,"y":0.0445},{"x":0.48,"y":0.032},{"x":0.5,"y":0.0195},{"x":0.52,"y":0.0062},{"x":0.54,"y":0}
    ],
    "variance": [
      {"x":0,"v":0.00052},{"x":0.02,"v":0.00108},{"x":0.04,"v":0.00081},{"x":0.06,"v":0.00054},{"x":0.08,"v":0.00029},{"x":0.1,"v":0.000168},{"x":0.12,"v":0.000121},{"x":0.14,"v":0.000106},{"x":0.16,"v":0.000121},{"x":0.18,"v":0.000137},{"x":0.2,"v":0.000152},{"x":0.22,"v":0.000157},{"x":0.24,"v":0.000155},{"x":0.26,"v":0.000147},{"x":0.28,"v":0.000123},{"x":0.3,"v":0.000096},{"x":0.32,"v":0.00007},{"x":0.34,"v":0.000045},{"x":0.36,"v":0.000025},{"x":0.38,"v":0.000012},{"x":0.4,"v":0.000005},{"x":0.42,"v":0.000002},{"x":0.44,"v":0.000001},
      {"x":0.46,"v":0},{"x":0.48,"v":0},{"x":0.5,"v":0},{"x":0.52,"v":0},{"x":0.54,"v":0},{"x":0.56,"v":0},{"x":0.58,"v":0},{"x":0.6,"v":0},{"x":0.62,"v":0},{"x":0.64,"v":0},{"x":0.66,"v":0},{"x":0.68,"v":0},{"x":0.7,"v":0},{"x":0.72,"v":0},{"x":0.74,"v":0},{"x":0.76,"v":0},{"x":0.78,"v":0},{"x":0.8,"v":0},{"x":0.82,"v":0},{"x":0.84,"v":0},{"x":0.86,"v":0},{"x":0.88,"v":0},{"x":0.9,"v":0},{"x":0.92,"v":0},{"x":0.94,"v":0},{"x":0.96,"v":0},{"x":0.98,"v":0}
    ]
  },
  "resolve": {"scale": {"y": "independent"}, "axis": {"x": "independent"}},
  "layer": [
    {
      "layer": [
        {
          "data": {"name": "real"},
          "mark": {"type": "line", "clip": false, "strokeWidth": 1},
          "encoding": {
            "x": {
              "field": "x", "type": "quantitative",
              "scale": {"domain": [0, 1], "nice": false},
              "axis": {
                "orient": "bottom", "title": "x", "titlePadding": 3,
                "values": [0, 0.1, 0.2, 0.3, 0.4, 0.5, 0.6, 0.7, 0.8, 0.9, 1],
                "format": "~g", "tickSize": -10, "labelPadding": 18,
                "grid": true
              }
            },
            "y": {
              "field": "y", "type": "quantitative",
              "scale": {"domain": [0, 0.18], "nice": false},
              "axis": {
                "orient": "left", "title": "t = 0.4", "titleFontStyle": "italic", "titlePadding": 24,
                "values": [0, 0.02, 0.04, 0.06, 0.08, 0.1, 0.12, 0.14, 0.16, 0.18],
                "format": "~g", "tickSize": -10, "labelPadding": 20,
                "grid": true
              }
            },
            "detail": {"field": "r", "type": "nominal"},
            "color": {
              "datum": "realisations", "type": "nominal",
              "scale": {"domain": ["realisations", "mean", "variance"], "range": ["#9400d3", "#56b4e9", "#e51e10"]},
              "legend": {
                "title": null, "orient": "none", "legendX": 550, "legendY": 10,
                "symbolType": "stroke", "symbolSize": 2500,
                "labelAlign": "right", "labelOffset": -43, "rowPadding": -36,
                "encode": {
                  "symbols": {
                    "update": {
                      "strokeWidth": {"signal": "datum.value === 'realisations' ? 1.5 : 5.5"}
                    }
                  }
                }
              }
            }
          }
        },
        {
          "data": {"name": "mean"},
          "mark": {"type": "line", "clip": false, "strokeWidth": 5},
          "encoding": {
            "x": {"field": "x", "type": "quantitative"},
            "y": {"field": "y", "type": "quantitative"},
            "color": {"datum": "mean", "type": "nominal"}
          }
        }
      ]
    },
    {
      "data": {"name": "variance"},
      "mark": {"type": "line", "clip": false, "strokeWidth": 5.5},
      "encoding": {
        "x": {
          "field": "x", "type": "quantitative",
          "axis": {"orient": "top", "title": null, "labels": false, "grid": false, "tickSize": -10,
                   "values": [0, 0.1, 0.2, 0.3, 0.4, 0.5, 0.6, 0.7, 0.8, 0.9, 1]}
        },
        "y": {
          "field": "v", "type": "quantitative",
          "scale": {"domain": [0, 0.0012], "nice": false},
          "axis": {
            "orient": "right", "title": null, "grid": false, "tickSize": -10, "labelPadding": 25,
            "values": [0, 0.000133333, 0.0002, 0.000266667, 0.0004, 0.000533333, 0.0006, 0.000666667, 0.0008, 0.000933333, 0.001, 0.001066667, 0.0012],
            "labelExpr": "abs(datum.value * 5000 - round(datum.value * 5000)) < 0.01 ? format(datum.value, '~g') : ''"
          }
        },
        "color": {"datum": "variance", "type": "nominal"}
      }
    }
  ]
}
